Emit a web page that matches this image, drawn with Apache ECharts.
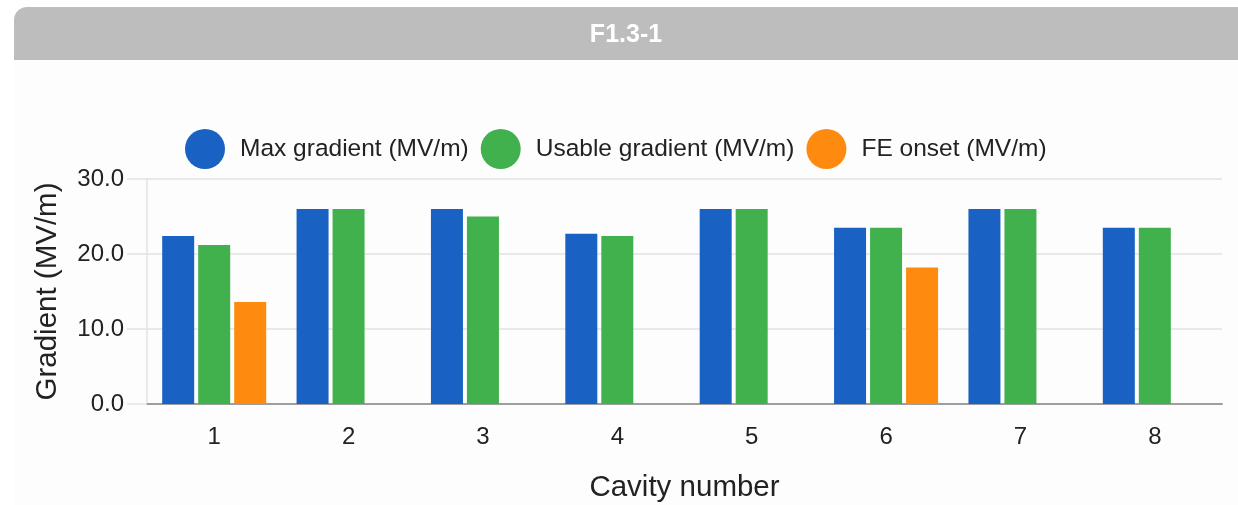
<!DOCTYPE html>
<html>
<head>
<meta charset="utf-8">
<script src="https://cdn.jsdelivr.net/npm/echarts@6/dist/echarts.min.js"></script>
<style>
  html, body { margin: 0; padding: 0; background: #ffffff; }
  #chart { width: 1238px; height: 505px; }
</style>
</head>
<body>
<div id="chart"></div>
<script>
const titleText = 'F1.3-1';
const categories = ['1', '2', '3', '4', '5', '6', '7', '8'];
const seriesNames = ['Max gradient (MV/m)', 'Usable gradient (MV/m)', 'FE onset (MV/m)'];
const maxGradient = [22.4, 26.0, 26.0, 22.7, 26.0, 23.5, 26.0, 23.5];
const usableGradient = [21.2, 26.0, 25.0, 22.4, 26.0, 23.5, 26.0, 23.5];
const feOnset = [13.6, null, null, null, null, 18.2, null, null];
const yTicks = [0, 10, 20, 30];
const xAxisTitle = 'Cavity number';
const yAxisTitle = 'Gradient (MV/m)';

const colors = ['#1961c3', '#40b14c', '#fe8b0f'];
const font = '"Liberation Sans", Arial, sans-serif';

const chart = echarts.init(document.getElementById('chart'), null, { renderer: 'canvas' });

const option = {
  animation: false,
  color: colors,
  textStyle: { fontFamily: font },
  graphic: [
    { type: 'rect', left: 14, top: 60, shape: { width: 1224, height: 445 }, style: { fill: '#fdfdfd' }, z: -10 },
    { type: 'rect', left: 14, top: 7, shape: { width: 1224, height: 53, r: [13, 0, 0, 0] }, style: { fill: '#bdbdbd' }, z: -5 }
  ],
  title: {
    text: titleText,
    left: 621,
    textAlign: 'center',
    top: 18,
    textStyle: { color: '#ffffff', fontSize: 25, fontWeight: 'bold', fontFamily: font }
  },
  legend: {
    left: 180,
    top: 124,
    icon: 'circle',
    itemWidth: 40,
    itemHeight: 40,
    itemGap: 12,
    data: seriesNames,
    textStyle: { fontSize: 24.5, color: '#222222', fontFamily: font, padding: [0, 0, 0, 10] }
  },
  grid: { left: 147, right: 16, top: 179, bottom: 101, containLabel: false },
  xAxis: {
    type: 'category',
    data: categories,
    name: xAxisTitle,
    nameLocation: 'middle',
    nameGap: 69,
    nameTextStyle: { fontSize: 29.5, color: '#222222', fontFamily: font },
    axisLine: { show: true, lineStyle: { color: '#9e9e9e', width: 2 } },
    axisTick: { show: false },
    axisLabel: { fontSize: 24, color: '#222222', margin: 21, fontFamily: font }
  },
  yAxis: {
    type: 'value',
    min: yTicks[0],
    max: yTicks[yTicks.length - 1],
    interval: yTicks[1] - yTicks[0],
    name: yAxisTitle,
    nameLocation: 'middle',
    nameGap: 84,
    nameTextStyle: { fontSize: 29.5, color: '#222222', fontFamily: font },
    axisLine: { show: true, lineStyle: { color: '#e2e2e2', width: 1.5 } },
    axisTick: { show: true, length: 20, lineStyle: { color: '#e2e2e2', width: 1.5 } },
    axisLabel: { fontSize: 24, color: '#222222', margin: 23, fontFamily: font, formatter: v => v.toFixed(1) },
    splitLine: { show: true, lineStyle: { color: '#e2e2e2', width: 1.5 } }
  },
  series: [
    { name: seriesNames[0], type: 'bar', data: maxGradient, barWidth: 32, barGap: '12.5%', itemStyle: { color: colors[0] } },
    { name: seriesNames[1], type: 'bar', data: usableGradient, barWidth: 32, barGap: '12.5%', itemStyle: { color: colors[1] } },
    { name: seriesNames[2], type: 'bar', data: feOnset, barWidth: 32, barGap: '12.5%', itemStyle: { color: colors[2] } }
  ]
};

chart.setOption(option);
</script>
</body>
</html>
